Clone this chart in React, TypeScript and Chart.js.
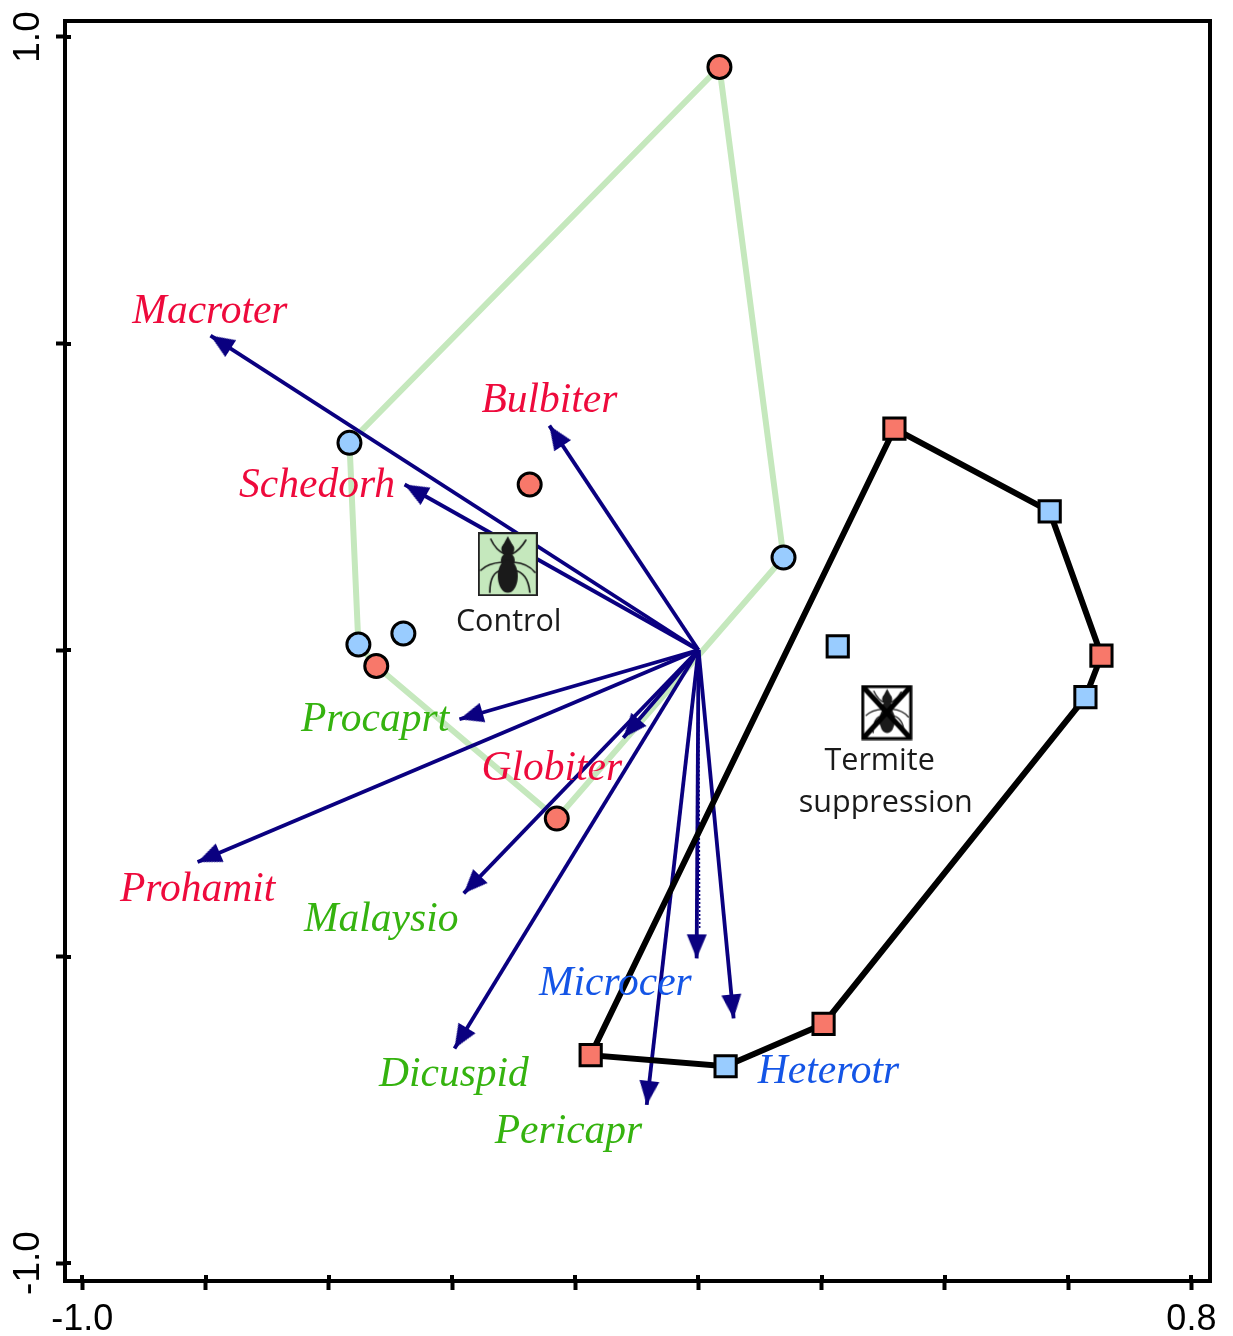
import React, { useEffect, useRef } from "react";
import { Chart, registerables } from "chart.js";

Chart.register(...registerables);

// Axis
const xBounds = [-1.0282, 0.8302];
const yBounds = [-1.0293, 1.0261];
const xTickLabels: Record<string, string> = { "-1": "-1.0", "0.8": "0.8" };
const yTickLabels: Record<string, string> = { "-1": "-1.0", "1": "1.0" };

// Site scores
const controlRedX = [0.034, -0.274, -0.523, -0.23];
const controlRedY = [0.951, 0.27, -0.026, -0.275];
const controlBlueX = [-0.5665, 0.138, -0.479, -0.552];
const controlBlueY = [0.338, 0.151, 0.027, 0.009];
const suppressedRedX = [0.318, 0.654, 0.203, -0.175];
const suppressedRedY = [0.361, -0.009, -0.61, -0.661];
const suppressedBlueX = [0.57, 0.226, 0.628, 0.044];
const suppressedBlueY = [0.226, 0.006, -0.077, -0.679];

// Hulls
const controlHullX = [0.034, 0.138, -0.23, -0.523, -0.552, -0.5665, 0.034];
const controlHullY = [0.951, 0.151, -0.275, -0.026, 0.009, 0.338, 0.951];
const suppressedHullX = [0.318, 0.57, 0.654, 0.628, 0.203, 0.044, -0.175, 0.318];
const suppressedHullY = [0.361, 0.226, -0.009, -0.077, -0.61, -0.679, -0.661, 0.361];

// Species arrows
const speciesNames = [
  "Macroter", "Bulbiter", "Schedorh", "Procaprt", "Prohamit", "Globiter",
  "Malaysio", "Dicuspid", "Pericapr", "Microcer", "Heterotr",
];
const arrowX = [-0.792, -0.242, -0.477, -0.388, -0.813, -0.122, -0.381, -0.396, -0.084, -0.003, 0.057];
const arrowY = [0.513, 0.366, 0.27, -0.113, -0.346, -0.143, -0.397, -0.65, -0.742, -0.503, -0.601];
const labelX = [-0.793, -0.242, -0.619, -0.525, -0.813, -0.238, -0.515, -0.397, -0.211, -0.135, 0.211];
const labelY = [0.551, 0.406, 0.267, -0.114, -0.391, -0.194, -0.44, -0.693, -0.786, -0.545, -0.688];
const labelColors = [
  "#ee0a3c", "#ee0a3c", "#ee0a3c", "#35b30f", "#ee0a3c", "#ee0a3c",
  "#35b30f", "#35b30f", "#35b30f", "#1455e6", "#1455e6",
];
// Second, dotted trace along the Microcer shaft
const microcerTraceX = [0.0, 0.002];
const microcerTraceY = [0.0, -0.455];

// Treatment annotations
const treatmentIconX = [-0.3095, 0.3055];
const treatmentIconY = [0.14, -0.102];
const treatmentText = ["Control", "Termite", "suppression"];
const treatmentTextX = [-0.308, 0.294, 0.304];
const treatmentTextY = [0.046, -0.182, -0.25];

const NAVY = "#0a0080";

function makeCanvas(w: number, h: number) {
  const c = document.createElement("canvas");
  c.width = w;
  c.height = h;
  return c;
}

function arrowHead() {
  const c = makeCanvas(56, 56);
  const g = c.getContext("2d")!;
  g.fillStyle = NAVY;
  g.beginPath();
  g.moveTo(28, 28);
  g.lineTo(18, 52);
  g.lineTo(38, 52);
  g.closePath();
  g.fill();
  return c;
}

function drawAnt(g: CanvasRenderingContext2D, ox: number, oy: number, s: number) {
  g.save();
  g.translate(ox, oy);
  g.scale(s, s);
  g.fillStyle = "#1a1a1a";
  g.strokeStyle = "#1a1a1a";
  g.lineWidth = 1.7;
  g.lineCap = "round";
  const legs = [
    [27, 21, 18, 17, 13, 6],
    [34, 21, 42, 17, 48, 7],
    [24, 29, 10, 30, 3, 37],
    [36, 29, 50, 30, 57, 39],
    [24, 37, 12, 39, 12, 59],
    [36, 37, 50, 39, 52, 59],
  ];
  for (const l of legs) {
    g.beginPath();
    g.moveTo(l[0], l[1]);
    g.quadraticCurveTo(l[2], l[3], l[4], l[5]);
    g.stroke();
  }
  g.beginPath();
  g.moveTo(30, 3);
  g.lineTo(36, 14);
  g.lineTo(24, 14);
  g.closePath();
  g.fill();
  g.beginPath();
  g.ellipse(30, 16, 6.5, 6.5, 0, 0, Math.PI * 2);
  g.fill();
  g.beginPath();
  g.ellipse(30, 27, 7, 7, 0, 0, Math.PI * 2);
  g.fill();
  g.beginPath();
  g.ellipse(30, 43, 10, 16.5, 0, 0, Math.PI * 2);
  g.fill();
  g.restore();
}

function controlIcon() {
  const c = makeCanvas(60, 64);
  const g = c.getContext("2d")!;
  g.fillStyle = "#c5e8bd";
  g.strokeStyle = "#222";
  g.lineWidth = 2;
  g.fillRect(1, 1, 58, 62);
  g.strokeRect(1, 1, 58, 62);
  drawAnt(g, 0, 1, 1);
  return c;
}

function termiteIcon() {
  const c = makeCanvas(52, 56);
  const g = c.getContext("2d")!;
  g.fillStyle = "#fff";
  g.fillRect(1, 1, 50, 54);
  drawAnt(g, 3, 2, 0.78);
  g.strokeStyle = "#000";
  g.lineWidth = 3;
  g.strokeRect(2, 2, 48, 52);
  g.lineWidth = 5;
  g.beginPath();
  g.moveTo(3, 3);
  g.lineTo(49, 53);
  g.moveTo(49, 3);
  g.lineTo(3, 53);
  g.stroke();
  return c;
}

function zip(xs: number[], ys: number[]) {
  return xs.map((x, i) => ({ x, y: ys[i] }));
}

const frameAndText = {
  id: "frameAndText",
  afterDatasetsDraw(chart: any) {
    const { ctx, chartArea: a, scales } = chart;
    ctx.save();
    ctx.strokeStyle = "#000";
    ctx.lineWidth = 4;
    ctx.strokeRect(a.left, a.top, a.right - a.left, a.bottom - a.top);
    // inward half of the crossing tick marks
    ctx.beginPath();
    for (const t of scales.x.ticks) {
      const px = Math.round(scales.x.getPixelForValue(t.value));
      ctx.moveTo(px, a.bottom);
      ctx.lineTo(px, a.bottom - 6);
    }
    for (const t of scales.y.ticks) {
      const py = Math.round(scales.y.getPixelForValue(t.value));
      ctx.moveTo(a.left, py);
      ctx.lineTo(a.left + 6, py);
    }
    ctx.stroke();
    ctx.textAlign = "center";
    ctx.textBaseline = "middle";
    ctx.font = 'italic 41.5px "Liberation Serif"';
    speciesNames.forEach((name, i) => {
      ctx.fillStyle = labelColors[i];
      ctx.fillText(name, scales.x.getPixelForValue(labelX[i]), scales.y.getPixelForValue(labelY[i]));
    });
    ctx.font = '30.5px "Open Sans"';
    ctx.fillStyle = "#1a1a1a";
    treatmentText.forEach((t, i) => {
      ctx.fillText(t, scales.x.getPixelForValue(treatmentTextX[i]), scales.y.getPixelForValue(treatmentTextY[i]));
    });
    ctx.restore();
  },
};

export default function App() {
  const ref = useRef<HTMLCanvasElement>(null);
  useEffect(() => {
    const head = arrowHead();
    const marker = (label: string, xs: number[], ys: number[], style: string, color: string, radius: number) => ({
      label,
      data: zip(xs, ys),
      pointStyle: style,
      pointRadius: radius,
      pointBackgroundColor: color,
      pointBorderColor: "#000",
      pointBorderWidth: 3,
      showLine: false,
    });
    const hull = (label: string, xs: number[], ys: number[], color: string, width: number) => ({
      label,
      data: zip(xs, ys),
      showLine: true,
      borderColor: color,
      borderWidth: width,
      pointRadius: 0,
      tension: 0,
    });
    const arrows = speciesNames.map((name, i) => ({
      label: name,
      data: [{ x: 0, y: 0 }, { x: arrowX[i], y: arrowY[i] }],
      showLine: true,
      borderColor: NAVY,
      borderWidth: 3.8,
      tension: 0,
      pointRadius: [0, 14],
      pointBorderWidth: 0,
      pointStyle: head,
      pointRotation: [0, (Math.atan2(arrowX[i], arrowY[i]) * 180) / Math.PI],
    }));
    const chart = new Chart(ref.current!, {
      type: "scatter",
      data: {
        datasets: [
          {
            label: "icons",
            data: zip(treatmentIconX, treatmentIconY),
            pointStyle: [controlIcon(), termiteIcon()],
            pointRadius: 20,
            showLine: false,
          },
          marker("Control, red", controlRedX, controlRedY, "circle", "#f8786a", 11.5),
          marker("Control, blue", controlBlueX, controlBlueY, "circle", "#99ccff", 11.5),
          marker("Suppression, red", suppressedRedX, suppressedRedY, "rect", "#f8786a", 15),
          marker("Suppression, blue", suppressedBlueX, suppressedBlueY, "rect", "#99ccff", 15),
          hull("Suppression hull", suppressedHullX, suppressedHullY, "#000", 6),
          {
            label: "Microcer trace",
            data: zip(microcerTraceX, microcerTraceY),
            showLine: true,
            borderColor: NAVY,
            borderWidth: 1.5,
            borderDash: [2, 2],
            pointRadius: 0,
            tension: 0,
          },
          ...arrows,
          hull("Control hull", controlHullX, controlHullY, "#c5e8bd", 6),
        ] as any,
      },
      options: {
        responsive: false,
        animation: false,
        devicePixelRatio: 1,
        layout: { padding: { top: 20, right: 23, left: 0, bottom: 0 } },
        plugins: { legend: { display: false }, tooltip: { enabled: false } },
        events: [],
        scales: {
          x: {
            type: "linear",
            min: xBounds[0],
            max: xBounds[1],
            afterFit(s: any) { s.height = 55; },
            border: { display: true, color: "#000", width: 4 },
            grid: { drawOnChartArea: false, drawTicks: true, tickLength: 9, tickWidth: 4, tickColor: "#000" },
            ticks: {
              stepSize: 0.2,
              autoSkip: false,
              includeBounds: false,
              maxRotation: 0,
              padding: 8,
              color: "#000",
              font: { family: "Liberation Sans", size: 36 },
              callback: (v: any) => xTickLabels[String(Math.round(v * 10) / 10)] ?? "",
            },
          },
          y: {
            type: "linear",
            min: yBounds[0],
            max: yBounds[1],
            afterFit(s: any) { s.width = 65; },
            border: { display: true, color: "#000", width: 4 },
            grid: { drawOnChartArea: false, drawTicks: true, tickLength: 9, tickWidth: 4, tickColor: "#000" },
            ticks: {
              stepSize: 0.5,
              autoSkip: false,
              includeBounds: false,
              minRotation: 90,
              maxRotation: 90,
              crossAlign: "center",
              padding: -5,
              color: "#000",
              font: { family: "Liberation Sans", size: 37 },
              callback: (v: any) => yTickLabels[String(Math.round(v * 10) / 10)] ?? "",
            },
          },
        },
      } as any,
      plugins: [frameAndText],
    });
    return () => chart.destroy();
  }, []);
  return (
    <div style={{ position: "absolute", left: 0, top: 0, width: 1233, height: 1336, background: "#fff" }}>
      <canvas ref={ref} width={1233} height={1336} style={{ display: "block" }} />
    </div>
  );
}
